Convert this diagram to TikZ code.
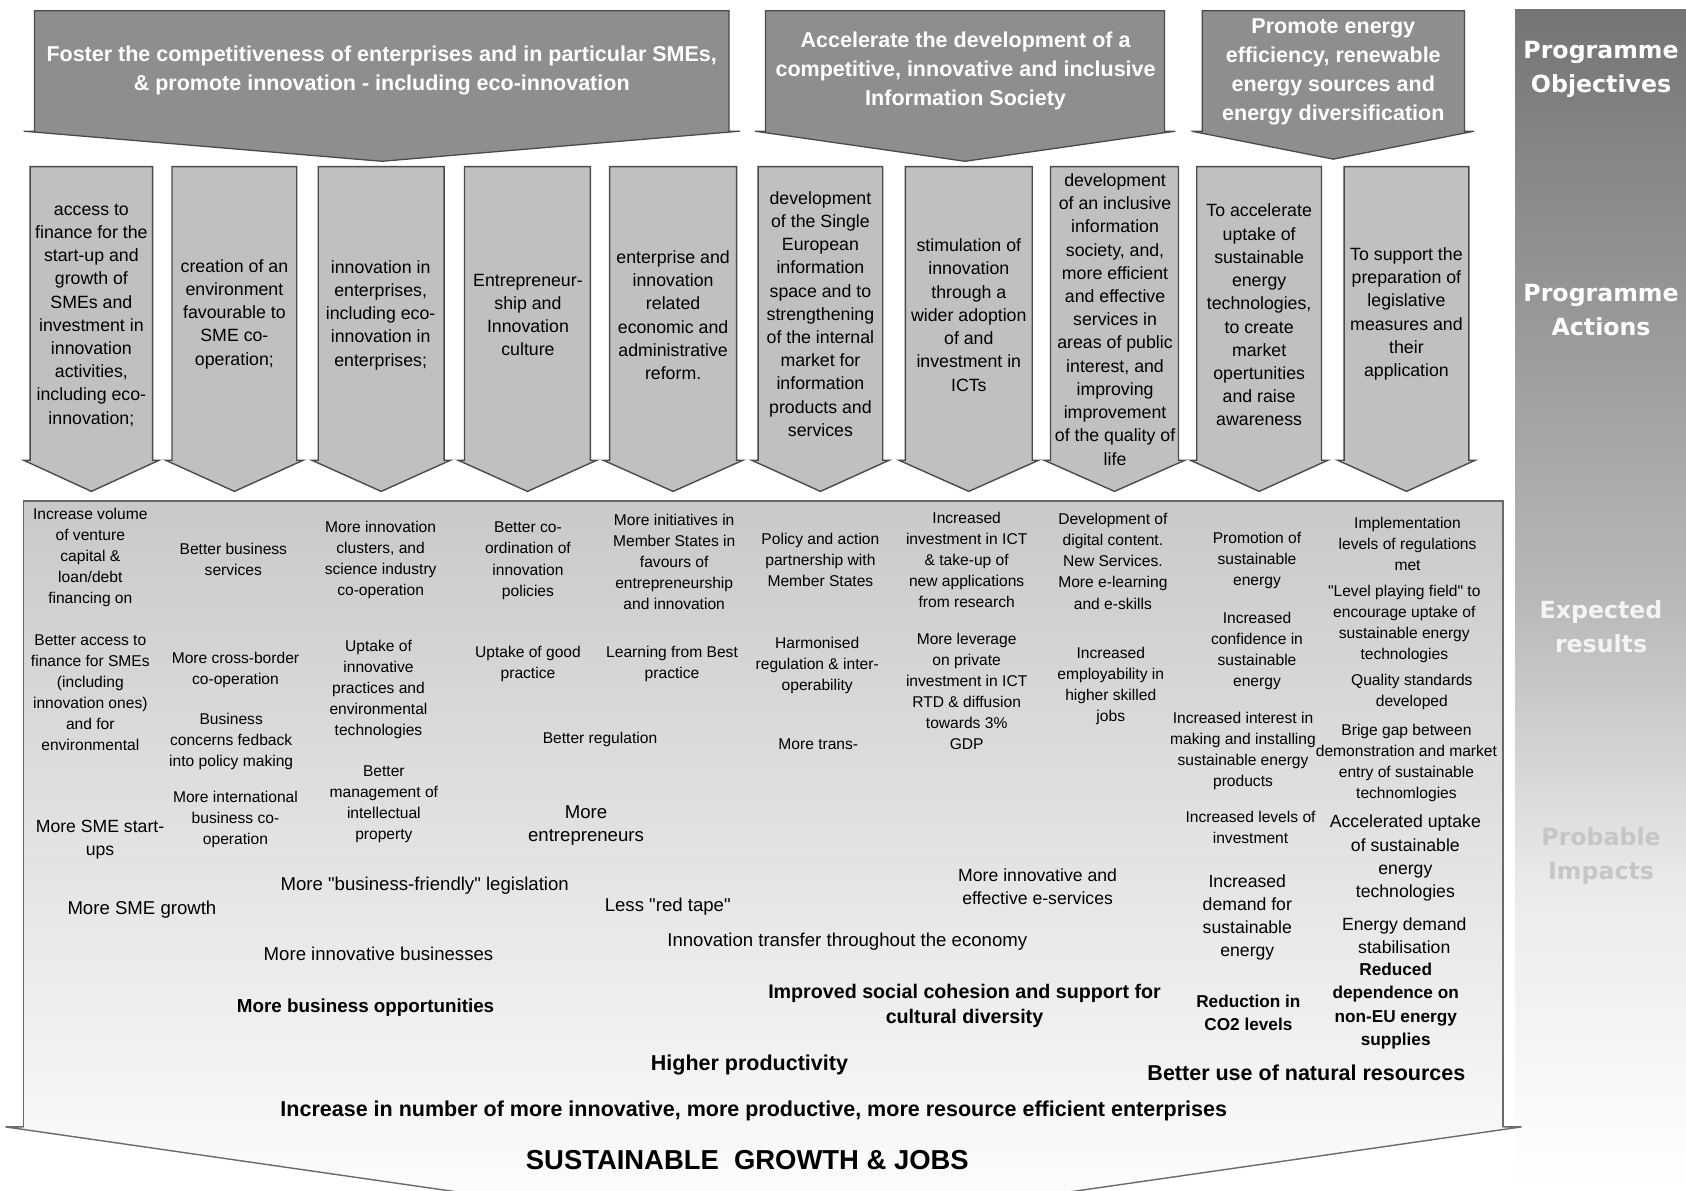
\documentclass[tikz,border=0pt]{standalone}
\usepackage{fontspec}
\setmainfont{Liberation Sans}
\newfontfamily\qfont{Liberation Sans}
\newfontfamily\sidefont{DejaVu Sans}
\newcommand{\sq}{{\qfont"}}
\definecolor{objgray}{HTML}{8E8E8E}
\definecolor{actgray}{HTML}{C0C0C0}
\definecolor{edgegray}{HTML}{4A4A4A}
\definecolor{boxedge}{HTML}{6A6A6A}
\definecolor{barA}{HTML}{757575}
\definecolor{barB}{HTML}{B9B9B9}
\definecolor{barC}{HTML}{EAEAEA}
\definecolor{restop}{HTML}{C9C9C9}
\definecolor{exptext}{HTML}{F4F4F4}
\definecolor{probtext}{HTML}{C6C6C6}
\tikzset{
 objarrow/.style={fill=objgray, draw=edgegray, line width=1.2pt, line join=miter},
 actarrow/.style={fill=actgray, draw=edgegray, line width=1.3pt, line join=miter},
 objtext/.style={text=white, font=\bfseries\fontsize{20}{27}\selectfont, align=center, inner sep=0pt},
 acttext/.style={font=\fontsize{16.5}{21.6}\selectfont, align=center, inner sep=0pt},
 restext/.style={font=\fontsize{14.5}{19.6}\selectfont, align=center, inner sep=0pt},
 restextL/.style={font=\fontsize{17.3}{21.5}\selectfont, align=center, inner sep=0pt},
 restextS/.style={font=\fontsize{16.4}{21.5}\selectfont, align=center, inner sep=0pt},
 restextB/.style={font=\bfseries\fontsize{17.5}{21.7}\selectfont, align=center, inner sep=0pt},
 restextBS/.style={font=\bfseries\fontsize{16}{21.7}\selectfont, align=center, inner sep=0pt},
 restextM/.style={font=\bfseries\fontsize{18.3}{23}\selectfont, align=center, inner sep=0pt},
 restextBB/.style={font=\bfseries\fontsize{20}{24}\selectfont, align=center, inner sep=0pt},
 finaltext/.style={font=\bfseries\fontsize{25.5}{30}\selectfont, align=center, inner sep=0pt},
 sidetext/.style={font=\sidefont\bfseries\fontsize{22}{32}\selectfont, align=center, inner sep=0pt},
}
\begin{document}
\begin{tikzpicture}[x=1pt,y=-1pt]
\useasboundingbox (0,0) rectangle (1568,1107);
\clip (0,0) rectangle (1568,1107);
\fill[white] (0,0) rectangle (1568,1107);

% side bar
\shade[top color=barA, bottom color=barB] (1409,9) rectangle (1568,560.5);
\shade[top color=barB, bottom color=barC] (1409,560) rectangle (1568,820.5);
\shade[top color=barC, bottom color=white] (1409,820) rectangle (1568,1107);
\node[sidetext, text=white] (sObj) at (1489,64.5) {Programme\\Objectives};
\node[sidetext, text=white] (sAct) at (1489,288.5) {Programme\\Actions};
\node[sidetext, text=exptext] (sExp) at (1489,583) {Expected\\results};
\node[sidetext, text=probtext] (sImp) at (1489,796) {Probable\\Impacts};

% objective arrows
\path[objarrow] (32,10) -- (678,10) -- (678,122) -- (688,122) -- (355,150) -- (22,122) -- (32,122) -- cycle;
\path[objarrow] (712,10) -- (1083,10) -- (1083,122) -- (1093,122) -- (897.5,150) -- (702,122) -- (712,122) -- cycle;
\path[objarrow] (1118,10) -- (1362,10) -- (1362,122) -- (1371,122) -- (1240,148) -- (1108,122) -- (1118,122) -- cycle;
\node[objtext] (o1) at (355,65.5) {Foster the competitiveness of enterprises and in particular SMEs,\\\& promote innovation - including eco-innovation};
\node[objtext] (o2) at (898,66) {Accelerate the development of a\\competitive, innovative and inclusive\\Information Society};
\node[objtext] (o3) at (1240,67) {Promote energy\\efficiency, renewable\\energy sources and\\energy diversification};

% action arrows
\foreach \L/\R in {28/142,160/276,296/413,432/549,567/685,705/821,842/960,977/1096,1113/1229,1250/1366} {
  \path[actarrow] (\L,155) -- (\R,155) -- (\R,428) -- ({\R+6},428) -- ({(\L+\R)/2},457) -- ({\L-6},428) -- (\L,428) -- cycle;
}
\node[acttext] (a1) at (85,293) {access to\\finance for the\\start-up and\\growth of\\SMEs and\\investment in\\innovation\\activities,\\including eco-\\innovation;};
\node[acttext] (a2) at (218,292) {creation of an\\environment\\favourable to\\SME co-\\operation;};
\node[acttext] (a3) at (354,293) {innovation in\\enterprises,\\including eco-\\innovation in\\enterprises;};
\node[acttext] (a4) at (491,293) {Entrepreneur-\\ship and\\Innovation\\culture};
\node[acttext] (a5) at (626,293) {enterprise and\\innovation\\related\\economic and\\administrative\\reform.};
\node[acttext] (a6) at (763,292) {development\\of the Single\\European\\information\\space and to\\strengthening\\of the internal\\market for\\information\\products and\\services};
\node[acttext] (a7) at (901,293) {stimulation of\\innovation\\through a\\wider adoption\\of and\\investment in\\ICTs};
\node[acttext] (a8) at (1037,297) {development\\of an inclusive\\information\\society, and,\\more efficient\\and effective\\services in\\areas of public\\interest, and\\improving\\improvement\\of the quality of\\life};
\node[acttext] (a9) at (1171,293) {To accelerate\\uptake of\\sustainable\\energy\\technologies,\\to create\\market\\opertunities\\and raise\\awareness};
\node[acttext] (a10) at (1308,292) {To support the\\preparation of\\legislative\\measures and\\their\\application};

% results box
\shade[top color=restop, bottom color=white] (22,466) -- (1398,466) -- (1398,1048) -- (1415,1048) -- (710,1149.5) -- (5,1048) -- (22,1048) -- cycle;
\draw[boxedge, line width=1.5pt, line join=miter] (22,1048) -- (22,466) -- (1398,466) -- (1398,1048);
\draw[boxedge, line width=1.3pt] (22,1048) -- (5,1048) -- (710,1149.5) -- (1415,1048) -- (1398,1048);

% column 1
\node[restext] (r1a) at (84,518.5) {Increase volume\\of venture\\capital \&\\loan/debt\\financing on};
\node[restext] (r1b) at (84,644.5) {Better access to\\finance for SMEs\\(including\\innovation ones)\\and for\\environmental};
\node[restextS] (r1c) at (93,780.5) {More SME start-\\ups};
\node[restextL] (r1d) at (132,846) {More SME growth};
% column 2
\node[restext] (r2a) at (217,520.5) {Better business\\services};
\node[restext] (r2b) at (219,623) {More cross-border\\co-operation};
\node[restext] (r2c) at (215,689.5) {Business\\concerns fedback\\into policy making};
\node[restext] (r2d) at (219,762.5) {More international\\business co-\\operation};
% column 3
\node[restext] (r3a) at (354,520.5) {More innovation\\clusters, and\\science industry\\co-operation};
\node[restext] (r3b) at (352,641) {Uptake of\\innovative\\practices and\\environmental\\technologies};
\node[restext] (r3c) at (357,748) {Better\\management of\\intellectual\\property};
\node[restextL] (r3d) at (395,824) {More \sq business-friendly\sq\ legislation};
\node[restextL] (r3e) at (352,887) {More innovative businesses};
\node[restextB] (r3f) at (340,937) {More business opportunities};
% column 4
\node[restext] (r4a) at (491,521.5) {Better co-\\ordination of\\innovation\\policies};
\node[restext] (r4b) at (491,617.5) {Uptake of good\\practice};
\node[restext] (r4c) at (558,688) {Better regulation};
\node[restextL] (r4d) at (545,768) {More\\entrepreneurs};
% column 5
\node[restext] (r5a) at (627,522.5) {More initiatives in\\Member States in\\favours of\\entrepreneurship\\and innovation};
\node[restext] (r5b) at (625,617.5) {Learning from Best\\practice};
\node[restextL] (r5c) at (621,843) {Less \sq red tape\sq};
% column 6
\node[restext] (r6a) at (763,521) {Policy and action\\partnership with\\Member States};
\node[restext] (r6b) at (760,618.5) {Harmonised\\regulation \& inter-\\operability};
\node[restext] (r6c) at (761,692) {More trans-};
\node[restextL] (r6d) at (788,876) {Innovation transfer throughout the economy};
\node[restextBB] (r6e) at (697,990) {Higher productivity};
% column 7
\node[restext] (r7a) at (899,521) {Increased\\investment in ICT\\\& take-up of\\new applications\\from research};
\node[restext] (r7b) at (899,643) {More leverage\\on private\\investment in ICT\\RTD \& diffusion\\towards 3\%\\GDP};
\node[restextS] (r7c) at (965,824.5) {More innovative and\\effective e-services};
\node[restextM] (r7d) at (897,935.5) {Improved social cohesion and support for\\cultural diversity};
% column 8
\node[restext] (r8a) at (1035,522) {Development of\\digital content.\\New Services.\\More e-learning\\and e-skills};
\node[restext] (r8b) at (1033,638) {Increased\\employability in\\higher skilled\\jobs};
% column 9
\node[restext] (r9a) at (1169,521.5) {Promotion of\\sustainable\\energy};
\node[restext] (r9b) at (1169,605.5) {Increased\\confidence in\\sustainable\\energy};
\node[restext] (r9c) at (1156,698.5) {Increased interest in\\making and installing\\sustainable energy\\products};
\node[restext] (r9d) at (1163,769.5) {Increased levels of\\investment};
\node[restextS] (r9e) at (1160,853) {Increased\\demand for\\sustainable\\energy};
\node[restextBS] (r9f) at (1161,942) {Reduction in\\CO2 levels};
% column 10
\node[restext] (r10a) at (1309,505.5) {Implementation\\levels of regulations\\met};
\node[restext] (r10b) at (1306,580) {\sq Level playing field\sq\ to\\encourage uptake of\\sustainable energy\\technologies};
\node[restext] (r10c) at (1313,643.5) {Quality standards\\developed};
\node[restext] (r10d) at (1308,709.5) {Brige gap between\\demonstration and market\\entry of sustainable\\technomlogies};
\node[restextS] (r10e) at (1307,798) {Accelerated uptake\\of sustainable\\energy\\technologies};
\node[restextS] (r10f) at (1306,870.5) {Energy demand\\stabilisation};
\node[restextBS] (r10g) at (1298,935.5) {Reduced\\dependence on\\non-EU energy\\supplies};
\node[restextBB] (r10h) at (1215,998) {Better use of natural resources};
% bottom
\node[restextBB] (b1) at (701,1033) {Increase in number of more innovative, more productive, more resource efficient enterprises};
\node[finaltext] (b2) at (695,1079) {SUSTAINABLE\ \ GROWTH \& JOBS};
\end{tikzpicture}
\end{document}
